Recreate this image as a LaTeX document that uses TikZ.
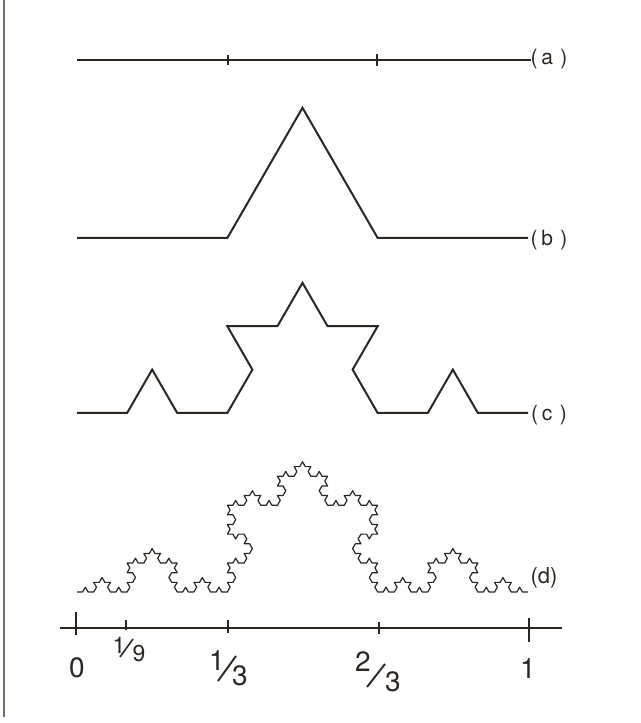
\documentclass[tikz,border=0pt]{standalone}
\usepackage{fontspec}
\setmainfont{TeX Gyre Heros}
\usetikzlibrary{lindenmayersystems}
\pgfdeclarelindenmayersystem{Koch}{\rule{F -> F+F--F+F}}
\definecolor{ink}{RGB}{45,38,32}
\definecolor{frame}{RGB}{120,110,95}
\begin{document}
\begin{tikzpicture}[x=1pt,y=1pt,
  curve/.style={draw=ink, line width=2pt, line join=miter},
  fine/.style={draw=ink, line width=1.2pt, line join=round},
  tick/.style={draw=ink, line width=1.4pt},
  slash/.style={draw=ink, line width=1.9pt},
  lab/.style={text=ink, font=\fontsize{21}{23}\selectfont, inner sep=0pt},
  num/.style={text=ink, font=\fontsize{28}{30}\selectfont, inner sep=0pt},
  small/.style={text=ink, font=\fontsize{23}{25}\selectfont, inner sep=0pt}]
\useasboundingbox (0,0) rectangle (640,723);
\fill[white] (0,0) rectangle (640,723);
% left frame line
\draw[frame, line width=1.3pt] (4,723) -- (4,6);
% (a)
\draw[curve] (77,663) -- (531,663);
\draw[tick] (228,658) -- (228,668);
\draw[tick] (377,657) -- (377,669);
\node[lab] (la) at (549,664) {(\kern0.18em a\kern0.35em)};
% (b)
\begin{scope}[shift={(77,485)}]
\draw[curve, l-system={Koch, axiom=F, order=1, step=150.333pt, angle=60}] (0,0) lindenmayer system;
\end{scope}
\node[lab] (lb) at (549,483) {(\kern0.18em b\kern0.35em)};
% (c)
\begin{scope}[shift={(77,310)}]
\draw[curve, l-system={Koch, axiom=F, order=2, step=50.111pt, angle=60}] (0,0) lindenmayer system;
\end{scope}
\node[lab] (lc) at (549,308) {(\kern0.18em c\kern0.35em)};
% (d)
\begin{scope}[shift={(77,131)}]
\draw[fine, l-system={Koch, axiom=F, order=4, step=5.5679pt, angle=60}] (0,0) lindenmayer system;
\end{scope}
\node[lab, font=\fontsize{22}{24}\selectfont] (ld) at (544,145) {(d)};
% axis
\draw[curve, line width=1.7pt] (60,95) -- (562,95);
\draw[tick, line width=1.7pt] (76,111) -- (76,88);
\draw[tick] (126,103) -- (126,93);
\draw[tick] (228,103) -- (228,90);
\draw[tick] (379,101) -- (379,89);
\draw[tick, line width=1.7pt] (529,105) -- (529,81);
% axis labels
\node[num] (n0) at (77,55) {0};
\node[small] (n9a) at (119,78) {1};
\node[small] (n9b) at (139,69) {9};
\coordinate (s9a) at (120,66);
\coordinate (s9b) at (133,84);
\draw[slash, line width=1.6pt] (s9a) -- (s9b);
\node[num] (n13a) at (217,62) {1};
\node[num] (n13b) at (240,47) {3};
\coordinate (s13a) at (218,42);
\coordinate (s13b) at (236,67);
\draw[slash] (s13a) -- (s13b);
\node[num] (n23a) at (363,61) {2};
\node[num] (n23b) at (393,41) {3};
\coordinate (s23a) at (367,36);
\coordinate (s23b) at (385,59);
\draw[slash] (s23a) -- (s23b);
\node[num] (n1) at (528,54) {1};
\end{tikzpicture}
\end{document}
